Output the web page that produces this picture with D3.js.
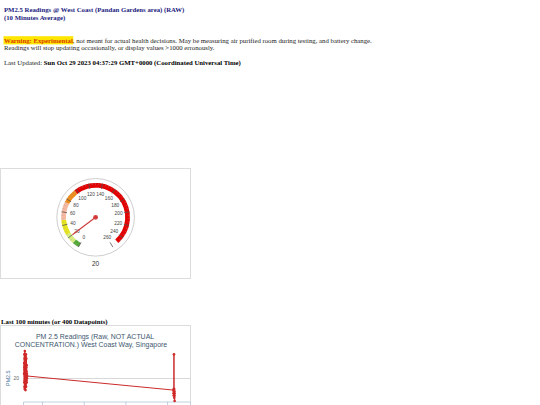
<!DOCTYPE html>
<html><head><meta charset="utf-8">
<script src="https://cdn.jsdelivr.net/npm/d3@7"></script>
<style>html,body{margin:0;padding:0;background:#fff;}svg{display:block;}</style>
</head><body>
<svg id="page" width="540" height="405"></svg>
<script>
// ---------- data ----------
const headerLines = ["PM2.5 Readings @ West Coast (Pandan Gardens area) (RAW)", "(10 Minutes Average)"];
const warningLabel = "Warning: Experimental";
const warningRest = ", not meant for actual health decisions. May be measuring air purified room during testing, and battery change.";
const warningLine2 = "Readings will stop updating occasionally, or display values >1000 erronously.";
const updatedLabel = "Last Updated: ";
const updatedValue = "Sun Oct 29 2023 04:37:29 GMT+0000 (Coordinated Universal Time)";
const historyHeading = "Last 100 minutes (or 400 Datapoints)";

const gaugeValue = 20;
const gaugeMin = 0, gaugeMax = 260;
const gaugeTicks = [0,20,40,60,80,100,120,140,160,180,200,220,240,260];
const bandFrom  = [0, 10, 25, 48, 75, 97];
const bandTo    = [10, 25, 48, 75, 97, 250];
const bandColor = ["#55a83a", "#d6ec80", "#e6e41e", "#f6b8a0", "#ec8c1c", "#e30000"];

const lineTitle = ["PM 2.5 Readings (Raw, NOT ACTUAL", "CONCENTRATION.) West Coast Way, Singapore"];
const yAxisTitle = "PM2.5";
const yTicks = [20];
const xTicks = [10, 20, 30, 40];
const times = [5.70,5.72,5.74,5.76,5.78,5.80,5.82,5.84,5.86,5.88,5.90,5.92,5.94,5.96,5.98,6.00,6.02,6.04,6.06,6.08,6.10,6.12,6.14,6.16,6.18,6.20,6.22,6.24,6.26,6.28,6.30,6.32,6.34,6.36,6.38,6.42,
  41.55,41.57,41.59,41.61,41.63,41.65,41.67,41.69,41.71,41.73,41.75,41.77,41.79,41.81];
const values = [22,27,18,31,16,25,29,15,24,32.5,19,21,28,17,26,30,23,14.5,20,27,18,24,31,22,16,25,29,20,19,23,21,26,18,22,20,21,
  14.5,13,15,12,14,31,13,12,15,11,14,12,13,9.5];

// ---------- page ----------
const svg = d3.select("#page");
svg.append("rect").attr("width",540).attr("height",405).attr("fill","#fff");
const serif = "'Liberation Serif','Times New Roman',serif";
const sans = "'Liberation Sans',Arial,sans-serif";
const fs = 6.75;

svg.selectAll("text.hdr").data(headerLines).join("text").attr("class","hdr")
  .attr("x",4).attr("y",(d,i)=>12+i*7.8)
  .attr("font-family",serif).attr("font-weight","bold").attr("font-size",fs).attr("fill","#1a1a80").text(d=>d);

const warnT = svg.append("text").attr("x",4).attr("y",42.5).attr("font-family",serif).attr("font-size",fs)
  .attr("font-weight","bold").attr("fill","#d83c00").text(warningLabel);
const wLen = warnT.node().getComputedTextLength();
svg.insert("rect","text").attr("x",3.5).attr("y",36.2).attr("width",wLen+1).attr("height",8.2).attr("fill","#ffe600");
svg.append("text").attr("x",4+wLen).attr("y",42.5).attr("font-family",serif).attr("font-size",fs).attr("fill","#222").text(warningRest);
svg.append("text").attr("x",4).attr("y",50).attr("font-family",serif).attr("font-size",fs).attr("fill","#222").text(warningLine2);

const upd = svg.append("text").attr("x",4).attr("y",64.5).attr("font-family",serif).attr("font-size",fs).attr("fill","#222");
upd.append("tspan").text(updatedLabel);
upd.append("tspan").attr("font-weight","bold").attr("fill","#000").text(updatedValue);

svg.append("text").attr("x",1).attr("y",323.5).attr("font-family",serif).attr("font-size",fs)
  .attr("font-weight","bold").attr("fill","#000").text(historyHeading);

// ---------- gauge ----------
svg.append("rect").attr("x",0.5).attr("y",168.5).attr("width",190).attr("height",110).attr("fill","#fff").attr("stroke","#dcdcdc");
const cx = 95.6, cy = 217.3;
const g = svg.append("g").attr("transform",`translate(${cx},${cy})`);
const ang = d3.scaleLinear().domain([gaugeMin,gaugeMax]).range([-150,150]);
const rad = v => ang(v)*Math.PI/180;
g.append("circle").attr("r",38.8).attr("fill","#fff").attr("stroke","#cfcfcf").attr("stroke-width",1);
const arc = d3.arc().innerRadius(29.6).outerRadius(34.4);
g.selectAll("path.band").data(bandFrom.map((f,i)=>({f,t:bandTo[i],c:bandColor[i]}))).join("path").attr("class","band")
  .attr("d",d=>arc({startAngle:rad(d.f),endAngle:rad(d.t)})).attr("fill",d=>d.c);
const minor = d3.range(gaugeMin, gaugeMax+0.1, 5).filter(v=>v%20!==0);
g.selectAll("line.minor").data(minor).join("line").attr("class","minor")
  .attr("x1",d=>32.2*Math.sin(rad(d))).attr("y1",d=>-32.2*Math.cos(rad(d)))
  .attr("x2",d=>34.4*Math.sin(rad(d))).attr("y2",d=>-34.4*Math.cos(rad(d)))
  .attr("stroke","#a0a0a0").attr("stroke-width",0.35);
g.selectAll("line.major").data(gaugeTicks).join("line").attr("class","major")
  .attr("x1",d=>29*Math.sin(rad(d))).attr("y1",d=>-29*Math.cos(rad(d)))
  .attr("x2",d=>34.4*Math.sin(rad(d))).attr("y2",d=>-34.4*Math.cos(rad(d)))
  .attr("stroke","#555").attr("stroke-width",0.8);
g.selectAll("text.lab").data(gaugeTicks).join("text").attr("class","lab")
  .attr("x",d=>23.3*Math.sin(rad(d))).attr("y",d=>-23.3*Math.cos(rad(d))+1.7)
  .attr("text-anchor","middle").attr("font-family",sans).attr("font-size",4.8).attr("fill","#444").text(d=>d);
g.append("line").attr("x1",0).attr("y1",0)
  .attr("x2",29*Math.sin(rad(gaugeValue))).attr("y2",-29*Math.cos(rad(gaugeValue)))
  .attr("stroke","#cc3a3a").attr("stroke-width",1.1);
g.append("circle").attr("r",2.4).attr("fill","#d33c3c");
svg.append("text").attr("x",cx).attr("y",266.3).attr("text-anchor","middle").attr("font-family",sans)
  .attr("font-size",6.5).attr("fill","#333").text(gaugeValue);

// ---------- line chart ----------
svg.append("rect").attr("x",0.5).attr("y",325.5).attr("width",190).attr("height",100).attr("fill","#fff").attr("stroke","#dcdcdc");
svg.selectAll("text.lt").data(lineTitle).join("text").attr("class","lt")
  .attr("x",(d,i)=>i===0?95:91).attr("y",(d,i)=>338.5+i*8.6).attr("text-anchor","middle").attr("font-family",sans)
  .attr("font-size",6.95).attr("fill","#3e576f").text(d=>d);
const x = d3.scaleLinear().domain([5.44,45.5]).range([23,190]);
const y = d3.scaleLinear().domain([9,33]).range([402,350]);
svg.append("text").attr("transform",`translate(9.5,${y(20)}) rotate(-90)`).attr("text-anchor","middle")
  .attr("font-family",sans).attr("font-size",5.4).attr("fill","#4d759e").text(yAxisTitle);
svg.selectAll("line.grid").data(yTicks).join("line").attr("class","grid")
  .attr("x1",23).attr("x2",190).attr("y1",d=>Math.round(y(d))+0.5).attr("y2",d=>Math.round(y(d))+0.5)
  .attr("stroke","#d8d8d8").attr("stroke-width",1);
svg.selectAll("text.yt").data(yTicks).join("text").attr("class","yt")
  .attr("x",19).attr("y",d=>y(d)+1.8).attr("text-anchor","end").attr("font-family",sans).attr("font-size",5).attr("fill","#666").text(d=>d);
const xAxis = svg.append("g").attr("transform","translate(0,401.5)")
  .call(d3.axisBottom(x).tickValues(xTicks).tickSize(4).tickFormat(""));
xAxis.select(".domain").attr("stroke","#c0d0e0");
xAxis.selectAll(".tick line").attr("stroke","#c0d0e0");
const pts = times.map((t,i)=>({t,v:values[i]}));
svg.append("path").datum(pts).attr("fill","none").attr("stroke","#cc2a2a").attr("stroke-width",1)
  .attr("d",d3.line().x(d=>x(d.t)).y(d=>y(d.v)));
svg.selectAll("circle.pt").data(pts).join("circle").attr("class","pt")
  .attr("cx",d=>x(d.t)).attr("cy",d=>y(d.v)).attr("r",1.3).attr("fill","#d02828");
</script>
</body></html>
